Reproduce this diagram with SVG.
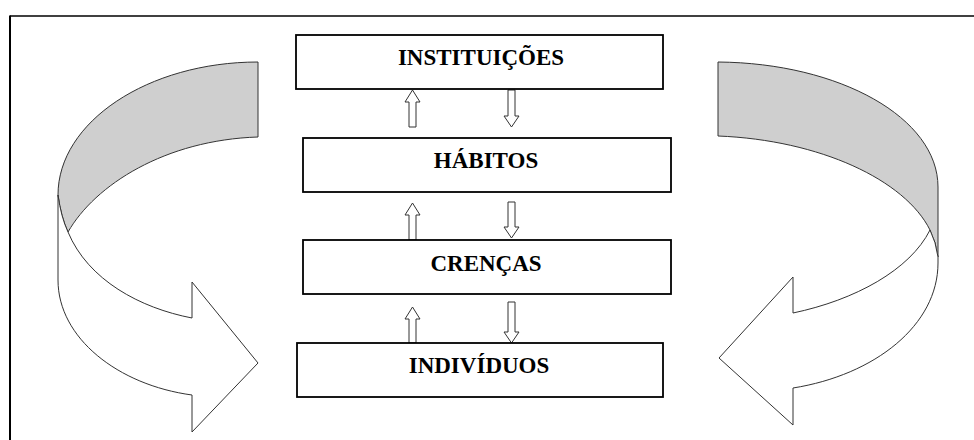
<svg xmlns="http://www.w3.org/2000/svg" width="974" height="440" viewBox="0 0 974 440">
<style>
.box{fill:#fff;stroke:#000;stroke-width:1.8}
.lbl{font-family:"Liberation Serif","Times New Roman",serif;font-weight:bold;font-size:23px;fill:#000;text-anchor:middle}
.sa{fill:#fff;stroke:#333;stroke-width:1}
.rib{stroke:#333;stroke-width:1;stroke-linejoin:miter}
.gray{fill:#cfcfcf}
.white{fill:#fff}
</style>
<rect width="974" height="440" fill="#fff"/>
<g id="frame">
<line x1="10" y1="16" x2="974" y2="16" stroke="#000" stroke-width="1.5"/>
<line x1="10" y1="15.5" x2="10" y2="440" stroke="#000" stroke-width="2"/>
</g>
<g id="left-cycle-arrow">
<path class="rib gray" d="M258,62 C148,62 58,122 58,195 Q61,217 68,232 C95,185 165,140 258,137 Z"/>
<path class="rib white" d="M58,195 L58,280 C58,338 118,385 192,395 L192,432 L258,363 L192,282 L192,318 C140,308 88,280 68,232 Q61,217 58,195 Z"/>
</g>
<g id="right-cycle-arrow">
<path class="rib gray" d="M718,62 C840,63 938,118 938,187 L938,257 Q936,242 930,230 C905,180 820,140 718,136 Z"/>
<path class="rib white" d="M930,230 Q936,242 938,257 L938,263 C938,325 875,375 793,388 L793,425 L719,358 L793,277 L793,313 C855,300 910,270 930,230 Z"/>
</g>
<g id="connectors">
<path class="sa" d="M412.5,90 L420,102 L416,102 L416,127 L409,127 L409,102 L405,102 Z"/>
<path class="sa" d="M511.5,127 L519,116 L515,116 L515,90 L508,90 L508,116 L504,116 Z"/>
<path class="sa" d="M412.5,203 L420,215 L416,215 L416,240 L409,240 L409,215 L405,215 Z"/>
<path class="sa" d="M511.5,238 L519,227 L515,227 L515,202 L508,202 L508,227 L504,227 Z"/>
<path class="sa" d="M412.5,307 L420,319 L416,319 L416,343 L409,343 L409,319 L405,319 Z"/>
<path class="sa" d="M511.5,343 L519,332 L515,332 L515,302 L508,302 L508,332 L504,332 Z"/>
</g>
<g id="node-instituicoes">
<rect class="box" x="296" y="35" width="367" height="54"/>
<text class="lbl" x="481" y="65">INSTITUIÇÕES</text>
</g>
<g id="node-habitos">
<rect class="box" x="303" y="138" width="368" height="54"/>
<text class="lbl" x="486" y="168">HÁBITOS</text>
</g>
<g id="node-crencas">
<rect class="box" x="303" y="240" width="368" height="54"/>
<text class="lbl" x="486" y="271">CRENÇAS</text>
</g>
<g id="node-individuos">
<rect class="box" x="297" y="343" width="366" height="54"/>
<text class="lbl" x="479" y="373">INDIVÍDUOS</text>
</g>
</svg>
